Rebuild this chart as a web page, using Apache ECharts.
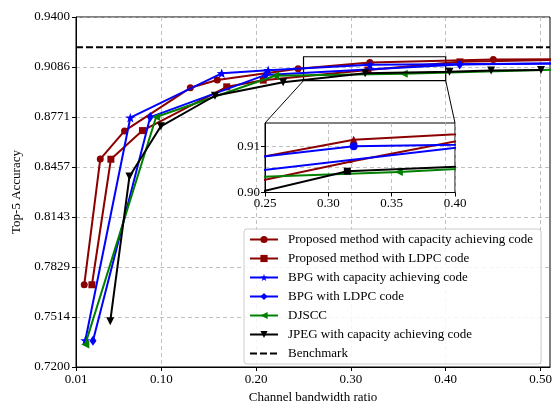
<!DOCTYPE html>
<html><head><meta charset="utf-8">
<script src="https://cdn.jsdelivr.net/npm/echarts@6/dist/echarts.min.js"></script>
<style>html,body{margin:0;padding:0;background:#fff}#c{width:559px;height:409px}</style>
</head><body><div id="c"></div>
<script>
// ---- data ----
const seriesNames = [
  'Proposed method with capacity achieving code',
  'Proposed method with LDPC code',
  'BPG with capacity achieving code',
  'BPG with LDPC code',
  'DJSCC',
  'JPEG with capacity achieving code',
  'Benchmark'
];
const propCapX  = [0.0187, 0.0356, 0.0612, 0.1306, 0.1590, 0.2443, 0.3200, 0.4502, 0.55];
const propCapY  = [0.7717, 0.8507, 0.8684, 0.8955, 0.9004, 0.9075, 0.9114, 0.9133, 0.9136];
const propLdpcX = [0.0268, 0.0468, 0.0801, 0.1690, 0.2075, 0.3180, 0.4150, 0.55];
const propLdpcY = [0.7717, 0.8506, 0.8686, 0.8961, 0.9003, 0.9067, 0.9118, 0.9135];
const bpgCapX   = [0.0198, 0.0673, 0.1637, 0.2127, 0.3200, 0.55];
const bpgCapY   = [0.7367, 0.8767, 0.9046, 0.9066, 0.9100, 0.9109];
const bpgLdpcX  = [0.0279, 0.0883, 0.2100, 0.4147, 0.55];
const bpgLdpcY  = [0.7365, 0.8771, 0.9036, 0.9101, 0.9110];
const djsccX    = [0.0198, 0.0945, 0.2199, 0.3557, 0.55];
const djsccY    = [0.7342, 0.8771, 0.9031, 0.9044, 0.9074];
const jpegX     = [0.0461, 0.0664, 0.0995, 0.1566, 0.2285, 0.3150, 0.4040, 0.4479, 0.5005];
const jpegY     = [0.7487, 0.8398, 0.8713, 0.8905, 0.8990, 0.9046, 0.9056, 0.9064, 0.9067];
const benchmarkY = 0.921;

const xTickLabels = ['0.01', '0.10', '0.20', '0.30', '0.40', '0.50'];
const yTickLabels = ['0.7200', '0.7514', '0.7829', '0.8143', '0.8457', '0.8771', '0.9086', '0.9400'];
const xRange = [0.01, 0.51];
const yRange = [0.72, 0.94];
const insetXRange = [0.25, 0.40];
const insetYRange = [0.90, 0.915];
const insetXTickLabels = ['0.25', '0.30', '0.35', '0.40'];
const insetYTickLabels = ['0.90', '0.91'];

// ---- styles ----
const FONT = 'Liberation Serif';
const RED = '#8b0000', BLUE = '#0000ff', GREEN = '#008000', BLACK = '#000000';
const STAR = 'path://M0,-10L2.35,-3.24L9.51,-3.09L3.8,1.24L5.88,8.09L0,4L-5.88,8.09L-3.8,1.24L-9.51,-3.09L-2.35,-3.24Z';

const zip = (xs, ys) => xs.map((x, i) => [x, ys[i]]);
const xTickVals = xTickLabels.map(Number);
const yTickVals = yTickLabels.map(Number);

const mainDefs = [
  {x: propCapX,  y: propCapY,  color: RED,   symbol: 'circle',   size: 7,  rot: 0,
   inset: {symbol: 'triangle', size: 8, rot: 0}},
  {x: propLdpcX, y: propLdpcY, color: RED,   symbol: 'rect',     size: 7,  rot: 0,
   inset: {symbol: STAR, size: 5, rot: 0}},
  {x: bpgCapX,   y: bpgCapY,   color: BLUE,  symbol: STAR,       size: 10, rot: 0,
   inset: {symbol: 'circle', size: 8, rot: 0}},
  {x: bpgLdpcX,  y: bpgLdpcY,  color: BLUE,  symbol: 'diamond',  size: [7, 10], rot: 0,
   inset: {symbol: 'none', size: 0, rot: 0}},
  {x: djsccX,    y: djsccY,    color: GREEN, symbol: 'triangle', size: 8,  rot: 90,
   inset: {symbol: 'triangle', size: 8, rot: 90}},
  {x: jpegX,     y: jpegY,     color: BLACK, symbol: 'triangle', size: 8,  rot: 180,
   inset: {symbol: 'rect', size: 7, rot: 0}}
];

const series = [];
mainDefs.forEach((d, i) => {
  series.push({
    name: seriesNames[i], type: 'line', xAxisIndex: 0, yAxisIndex: 0,
    data: zip(d.x, d.y), symbol: d.symbol, symbolSize: d.size, symbolRotate: d.rot,
    symbolKeepAspect: true, showAllSymbol: true, clip: true,
    lineStyle: {color: d.color, width: 2}, itemStyle: {color: d.color},
    z: 3 + i
  });
});
// benchmark
series.push({
  name: seriesNames[6], type: 'line', xAxisIndex: 0, yAxisIndex: 0,
  data: [[xRange[0], benchmarkY], [xRange[1], benchmarkY]],
  symbol: 'none', lineStyle: {color: BLACK, width: 2, type: [7, 3]}, itemStyle: {color: BLACK},
  z: 2,
  markArea: {
    silent: true,
    itemStyle: {color: 'rgba(0,0,0,0)', borderColor: BLACK, borderWidth: 1.2},
    data: [[{coord: [insetXRange[0], insetYRange[0]]}, {coord: [insetXRange[1], insetYRange[1]]}]]
  }
});
// inset copies
mainDefs.forEach((d, i) => {
  series.push({
    name: seriesNames[i], type: 'line', xAxisIndex: 1, yAxisIndex: 1,
    data: zip(d.x, d.y), symbol: d.inset.symbol, symbolSize: d.inset.size, symbolRotate: d.inset.rot,
    symbolKeepAspect: true, showAllSymbol: true, clip: true,
    lineStyle: {color: d.color, width: 2}, itemStyle: {color: d.color},
    z: 3 + i
  });
});

const gridLine = {show: true, lineStyle: {color: '#b0b0b0', type: [4, 3], width: 0.8}};
const axisText = {fontFamily: FONT, fontSize: 13, color: '#000'};

const legendData = seriesNames.map((n, i) =>
  i === 6 ? {name: n, itemStyle: {opacity: 0}} : {name: n});

const chart = echarts.init(document.getElementById('c'), null, {renderer: 'canvas'});
chart.setOption({
  animation: false,
  backgroundColor: '#fff',
  grid: [
    {left: 76, top: 17, width: 474, height: 354, show: true, borderColor: BLACK, borderWidth: 1, backgroundColor: 'transparent'},
    {left: 265, top: 123, width: 190, height: 69.5, show: true, borderColor: BLACK, borderWidth: 1, backgroundColor: 'transparent'}
  ],
  xAxis: [
    {type: 'value', gridIndex: 0, min: xRange[0], max: xRange[1],
     name: 'Channel bandwidth ratio', nameLocation: 'middle', nameGap: 24,
     nameTextStyle: {fontFamily: FONT, fontSize: 13, color: '#000'},
     axisLine: {show: true, onZero: false, lineStyle: {color: BLACK, width: 1}},
     axisTick: {show: true, length: 4, customValues: xTickVals, lineStyle: {color: BLACK}},
     axisLabel: Object.assign({customValues: xTickVals, margin: 6, formatter: v => v.toFixed(2)}, axisText),
     splitLine: gridLine},
    {type: 'value', gridIndex: 1, min: insetXRange[0], max: insetXRange[1],
     axisLine: {show: true, onZero: false, lineStyle: {color: BLACK, width: 1}},
     axisTick: {show: true, length: 4, customValues: insetXTickLabels.map(Number), lineStyle: {color: BLACK}},
     axisLabel: Object.assign({customValues: insetXTickLabels.map(Number), margin: 5, formatter: v => v.toFixed(2)}, axisText),
     splitLine: gridLine}
  ],
  yAxis: [
    {type: 'value', gridIndex: 0, min: yRange[0], max: yRange[1],
     name: 'Top-5 Accuracy', nameLocation: 'middle', nameGap: 52,
     nameTextStyle: {fontFamily: FONT, fontSize: 13, color: '#000'},
     axisLine: {show: true, onZero: false, lineStyle: {color: BLACK, width: 1}},
     axisTick: {show: true, length: 4, customValues: yTickVals, lineStyle: {color: BLACK}},
     axisLabel: Object.assign({customValues: yTickVals, margin: 6, formatter: v => v.toFixed(4)}, axisText),
     splitLine: gridLine},
    {type: 'value', gridIndex: 1, min: insetYRange[0], max: insetYRange[1],
     axisLine: {show: true, onZero: false, lineStyle: {color: BLACK, width: 1}},
     axisTick: {show: true, length: 4, customValues: insetYTickLabels.map(Number), lineStyle: {color: BLACK}},
     axisLabel: Object.assign({customValues: insetYTickLabels.map(Number), margin: 5, formatter: v => v.toFixed(2)}, axisText),
     splitLine: gridLine}
  ],
  legend: {
    orient: 'vertical', left: 244, top: 229,
    data: legendData,
    itemWidth: 28, itemHeight: 9, itemGap: 6,
    backgroundColor: 'rgba(255,255,255,0.85)', borderColor: '#cccccc', borderWidth: 1, borderRadius: 3,
    padding: [4, 8, 4, 5],
    textStyle: {fontFamily: FONT, fontSize: 13, color: '#000', padding: [0, 0, 0, 5]}
  },
  series: series
});

// connector lines from zoom box to inset
const a1 = chart.convertToPixel({gridIndex: 0}, [insetXRange[0], insetYRange[0]]);
const a2 = chart.convertToPixel({gridIndex: 0}, [insetXRange[1], insetYRange[0]]);
const b1 = chart.convertToPixel({gridIndex: 1}, [insetXRange[0], insetYRange[1]]);
const b2 = chart.convertToPixel({gridIndex: 1}, [insetXRange[1], insetYRange[1]]);
chart.setOption({
  graphic: [
    {type: 'line', shape: {x1: a1[0], y1: a1[1], x2: b1[0], y2: b1[1]}, style: {stroke: BLACK, lineWidth: 1}, z: 10},
    {type: 'line', shape: {x1: a2[0], y1: a2[1], x2: b2[0], y2: b2[1]}, style: {stroke: BLACK, lineWidth: 1}, z: 10}
  ]
});
</script></body></html>
